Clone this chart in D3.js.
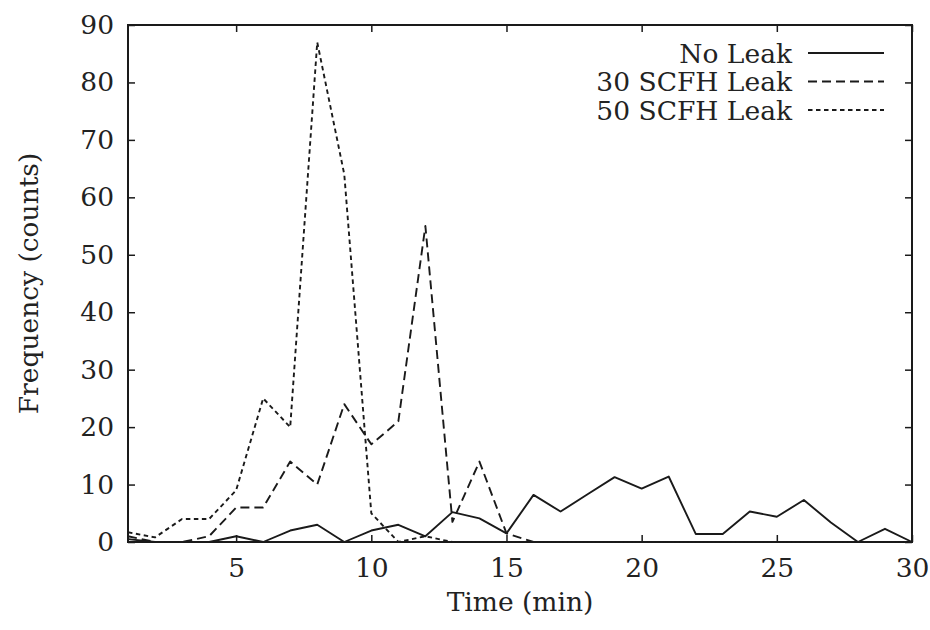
<!DOCTYPE html>
<html>
<head>
<meta charset="utf-8">
<script src="https://cdn.jsdelivr.net/npm/d3@7"></script>
<style>
  body { margin: 0; background: #fff; }
  text { font-family: "DejaVu Serif", "Liberation Serif", serif; fill: #222; }
</style>
</head>
<body>
<div class="box"></div>
<script>
// Data
const times = d3.range(1, 31);
const noLeak = [0.5, 0, 0, 0, 1, 0, 2, 3, 0, 2, 3, 1, 5.2, 4.1, 1.5, 8.2, 5.3, 8.3, 11.3, 9.3,
                11.4, 1.4, 1.4, 5.3, 4.4, 7.3, 3.4, 0, 2.3, 0];
const leak30 = [1, 0, 0, 1, 6, 6, 14, 10, 24, 17, 21, 55, 3.5, 14, 1.5, 0, 0, 0, 0, 0,
                0, 0, 0, 0, 0, 0, 0, 0, 0, 0];
const leak50 = [1.7, 0.8, 4, 4, 9, 25, 20, 87, 64, 5, 0, 1, 0, 0, 0, 0, 0, 0, 0, 0,
                0, 0, 0, 0, 0, 0, 0, 0, 0, 0];
const seriesNames = ["No Leak", "30 SCFH Leak", "50 SCFH Leak"];
const xTicks = [5, 10, 15, 20, 25, 30];
const yTicks = [0, 10, 20, 30, 40, 50, 60, 70, 80, 90];

// SVG
const w = 930;
const h = 630;
const plotLeft = 128, plotRight = 912, plotTop = 25, plotBottom = 542;
const fontSize = "26.5px";

const svg = d3.select(".box")
              .append("svg")
              .attr("width", w)
              .attr("height", h);

const x = d3.scaleLinear().domain([1, 30]).range([plotLeft, plotRight]);
const y = d3.scaleLinear().domain([0, 90]).range([plotBottom, plotTop]);

const ink = "#1a1a1a";
const tickLen = 7;

// Axes (ticks inside, mirrored on all four sides)
const axisStyle = g => {
    g.select(".domain").remove();
    g.selectAll(".tick line").attr("stroke", ink).attr("stroke-width", 1.5);
    g.selectAll(".tick text").attr("font-size", fontSize).attr("fill", ink)
        .style("font-family", '"DejaVu Serif", serif');
};

svg.append("g")
    .attr("transform", "translate(0," + plotBottom + ")")
    .call(d3.axisBottom(x).tickValues(xTicks).tickSizeInner(-tickLen).tickPadding(16).tickFormat(d3.format("d")))
    .call(axisStyle);

svg.append("g")
    .attr("transform", "translate(0," + plotTop + ")")
    .call(d3.axisTop(x).tickValues(xTicks).tickSizeInner(-tickLen).tickFormat(""))
    .call(axisStyle);

svg.append("g")
    .attr("transform", "translate(" + plotLeft + ",0)")
    .call(d3.axisLeft(y).tickValues(yTicks).tickSizeInner(-tickLen).tickPadding(14).tickFormat(d3.format("d")))
    .call(axisStyle);

svg.append("g")
    .attr("transform", "translate(" + plotRight + ",0)")
    .call(d3.axisRight(y).tickValues(yTicks).tickSizeInner(-tickLen).tickFormat(""))
    .call(axisStyle);

// Frame
svg.append("rect")
    .attr("x", plotLeft)
    .attr("y", plotTop)
    .attr("width", plotRight - plotLeft)
    .attr("height", plotBottom - plotTop)
    .attr("fill", "none")
    .attr("stroke", ink)
    .attr("stroke-width", 2);

// Lines
const dashes = [null, "9,5", "4.5,3.5"];
const allSeries = [noLeak, leak30, leak50];

const line = d3.line()
               .x((d, i) => x(times[i]))
               .y(d => y(d));

svg.selectAll(".series")
    .data(allSeries)
    .enter()
    .append("path")
    .attr("class", "series")
    .attr("d", d => line(d))
    .attr("fill", "none")
    .attr("stroke", ink)
    .attr("stroke-width", 1.9)
    .attr("stroke-linejoin", "round")
    .attr("stroke-dasharray", (d, i) => dashes[i]);

// Legend
const legend = svg.append("g");
legend.selectAll("text")
    .data(seriesNames)
    .enter()
    .append("text")
    .attr("x", 792)
    .attr("y", (d, i) => 53 + i * 28.5)
    .attr("text-anchor", "end")
    .attr("dominant-baseline", "central")
    .attr("font-size", fontSize)
    .text(d => d);

legend.selectAll("line")
    .data(seriesNames)
    .enter()
    .append("line")
    .attr("x1", 808)
    .attr("x2", 884)
    .attr("y1", (d, i) => 53 + i * 28.5)
    .attr("y2", (d, i) => 53 + i * 28.5)
    .attr("stroke", ink)
    .attr("stroke-width", 1.9)
    .attr("stroke-dasharray", (d, i) => dashes[i]);

// Axis titles
svg.append("text")
    .attr("x", (plotLeft + plotRight) / 2)
    .attr("y", 601)
    .attr("text-anchor", "middle")
    .attr("dominant-baseline", "central")
    .attr("font-size", fontSize)
    .text("Time (min)");

svg.append("text")
    .attr("transform", "translate(28," + (plotTop + plotBottom) / 2 + ") rotate(-90)")
    .attr("text-anchor", "middle")
    .attr("dominant-baseline", "central")
    .attr("font-size", fontSize)
    .text("Frequency (counts)");
</script>
</body>
</html>
